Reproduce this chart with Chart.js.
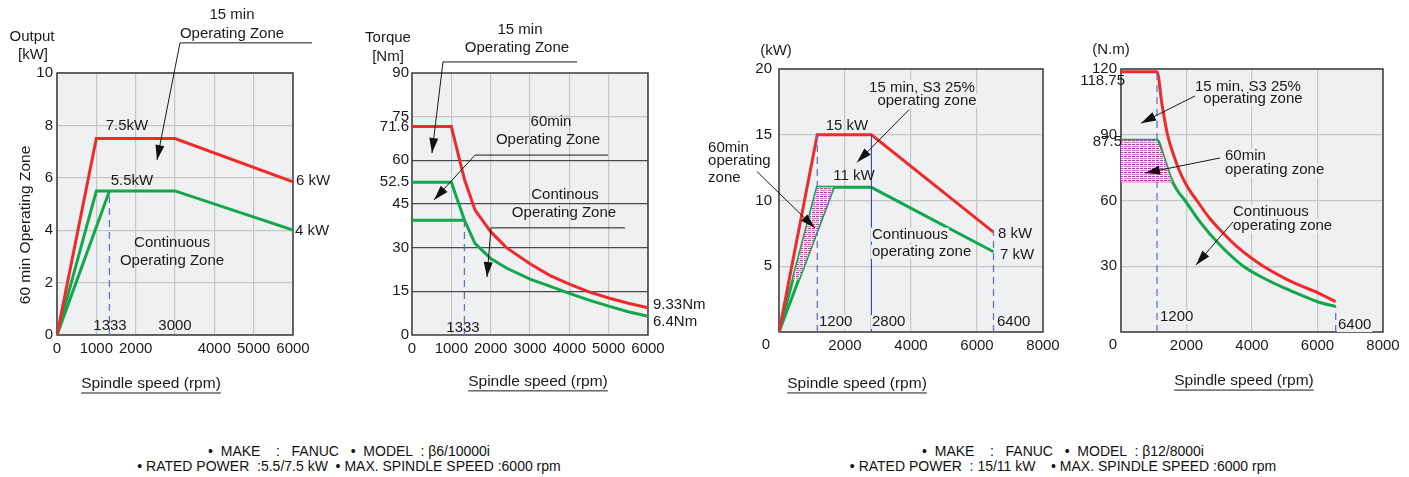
<!DOCTYPE html>
<html>
<head>
<meta charset="utf-8">
<script src="https://cdn.jsdelivr.net/npm/chart.js@4.4.1/dist/chart.umd.min.js"></script>
<style>
	html, body { margin: 0; padding: 0; background: #fff; }
	body { width: 1409px; height: 477px; position: relative; overflow: hidden; font-family: "Liberation Sans", Arial, sans-serif; }
	canvas { position: absolute; top: 0; }
	.cap { position: absolute; font-size: 14px; color: #111; white-space: pre; transform: translateX(-50%); line-height: 15px; }
</style>
</head>
<body>
<canvas id="c1" width="340" height="400" style="left:0"></canvas>
<canvas id="c2" width="380" height="400" style="left:340px"></canvas>
<canvas id="c3" width="370" height="400" style="left:700px"></canvas>
<canvas id="c4" width="349" height="400" style="left:1060px"></canvas>

<div class="cap" style="left:349px;top:444px">•  MAKE    :   FANUC   •  MODEL  : β6/10000i</div>
<div class="cap" style="left:349px;top:459px">• RATED POWER  :5.5/7.5 kW  • MAX. SPINDLE SPEED :6000 rpm</div>
<div class="cap" style="left:1063px;top:444px">•  MAKE    :   FANUC   •  MODEL  : β12/8000i</div>
<div class="cap" style="left:1063px;top:459px">• RATED POWER  : 15/11 kW    • MAX. SPINDLE SPEED :6000 rpm</div>

<script>
// beta 6/10000i - output
const b6Speed = [0, 1000, 3000, 6000];
const b6Out15 = [0, 7.5, 7.5, 5.85];
const b6Out60 = [0, 5.5, 5.5, 4];
const b6ContSpeed = [0, 1333];
const b6OutCont = [0, 5.5];

// beta 6/10000i - torque
const b6TqSpeed = [0, 1000, 1333, 1600, 2000, 2400, 3000, 3500, 4000, 4500, 5000, 5500, 6000];
const b6Tq15 = [71.6, 71.6, 53.5, 43, 35.5, 30, 24.5, 20.5, 17.5, 14.8, 12.7, 10.9, 9.33];
const b6Tq60 = [52.5, 52.5, 39.5, 31.5, 26.3, 23, 19.2, 16.8, 14.3, 12, 9.9, 8, 6.4];
const b6TqContSpeed = [0, 1333];
const b6TqCont = [39.4, 39.4];
const b6TqTicks = [0, 15, 30, 45, 52.5, 60, 71.6, 75, 90];

// beta 12/8000i - output
const b12Speed = [0, 1160, 2800, 6500];
const b12Out15 = [0, 15, 15, 7.6];
const b12Out60 = [0, 11, 11, 6.1];
const b12ContSpeed = [0, 1650];
const b12OutCont = [0, 11];
const b12WedgeSpeed = [422, 1160, 1650, 600];
const b12WedgeOut = [4, 11, 11, 4];

// beta 12/8000i - torque
const b12TqSpeed15 = [0, 1100, 1250, 1420, 1600, 1800, 2000, 2361, 2700, 3000, 3500, 4000, 4346, 5000, 5500, 6000, 6555];
const b12Tq15 = [118.75, 118.75, 104, 90, 81, 73, 67, 59, 52, 47, 39.5, 33.5, 30, 24.5, 21, 18, 13.8];
const b12TqSpeed60 = [0, 1100, 1300, 1500, 1700, 1954, 2400, 3000, 3735, 4500, 5000, 5500, 6000, 6555];
const b12Tq60 = [87.5, 87.5, 80, 71, 65, 60, 50.5, 40, 30, 23.5, 20, 16.8, 13.8, 11.6];
const b12ZoneSpeed = [0, 1100, 1300, 1500, 1560, 0];
const b12ZoneTq = [87.5, 87.5, 80, 71, 68.6, 68.6];

const RED = "#ee2a2a";
const GREEN = "#13a64a";
const BLUE = "#6a70c6";
const FONT = "\"Liberation Sans\", Arial, sans-serif";

const pts = (xs, ys) => xs.map((x, i) => ({ x: x, y: ys[i] }));

function curve(xs, ys, color, extra) {
	return Object.assign({
		data: pts(xs, ys),
		borderColor: color,
		borderWidth: 3,
		showLine: true,
		pointRadius: 0,
		fill: false
	}, extra || {});
}

function vline(x, y0, y1, color, dash, width) {
	return curve([x, x], [y0, y1], color, { borderWidth: width || 1.3, borderDash: dash || [] });
}

function pinkPattern() {
	const c = document.createElement("canvas");
	c.width = 8; c.height = 4;
	const g = c.getContext("2d");
	g.fillStyle = "#f4e4f1";
	g.fillRect(0, 0, 8, 4);
	g.fillStyle = "#b53aab";
	g.fillRect(0, 0, 3, 1);
	g.fillRect(4, 0, 3, 1);
	g.fillStyle = "#cf78c7";
	g.fillRect(0, 2, 7, 1);
	return g.createPattern(c, "repeat");
}

// text and arrows, in data units of each chart
const notes = {
	c1: [
		{ t: "text", x: -636, y: 11.37, s: "Output" },
		{ t: "text", x: -610, y: 10.69, s: "[kW]" },
		{ t: "text", x: 4449, y: 12.21, s: "15 min" },
		{ t: "text", x: 4449, y: 11.49, s: "Operating Zone" },
		{ t: "line", x1: 3127, y1: 11.15, x2: 6483, y2: 11.15 },
		{ t: "arrow", x1: 3127, y1: 11.15, x2: 2542, y2: 6.68 },
		{ t: "text", x: 1780, y: 7.98, s: "7.5kW" },
		{ t: "text", x: 1907, y: 5.88, s: "5.5kW" },
		{ t: "text", x: 6076, y: 5.88, s: "6 kW", a: "left" },
		{ t: "text", x: 6050, y: 3.97, s: "4 kW", a: "left" },
		{ t: "text", x: 2924, y: 3.51, s: "Continuous" },
		{ t: "text", x: 2924, y: 2.82, s: "Operating Zone" },
		{ t: "text", x: 1347, y: 0.34, s: "1333" },
		{ t: "text", x: 3000, y: 0.34, s: "3000" },
		{ t: "text", x: -790, y: 4.2, s: "60 min Operating Zone", rot: -Math.PI / 2, size: 15.5 },
		{ t: "text", x: 2390, y: -1.87, s: "Spindle speed (rpm)", ul: true, size: 15.5 }
	],
	c2: [
		{ t: "text", x: -610, y: 102, s: "Torque" },
		{ t: "text", x: -610, y: 95.5, s: "[Nm]" },
		{ t: "text", x: 2746, y: 104.8, s: "15 min" },
		{ t: "text", x: 2669, y: 98.6, s: "Operating Zone" },
		{ t: "line", x1: 788, y1: 93.8, x2: 4195, y2: 93.8 },
		{ t: "arrow", x1: 788, y1: 93.8, x2: 508, y2: 62.5 },
		{ t: "text", x: 3534, y: 73.2, s: "60min" },
		{ t: "text", x: 3458, y: 67, s: "Operating Zone" },
		{ t: "line", x1: 1602, y1: 61.8, x2: 4983, y2: 61.8 },
		{ t: "arrow", x1: 1602, y1: 61.8, x2: 559, y2: 46.4 },
		{ t: "text", x: 3890, y: 48.1, s: "Continous" },
		{ t: "text", x: 3864, y: 41.9, s: "Operating Zone" },
		{ t: "line", x1: 2008, y1: 36.8, x2: 5415, y2: 36.8 },
		{ t: "arrow", x1: 2008, y1: 36.8, x2: 1907, y2: 19.9 },
		{ t: "text", x: 6127, y: 10.3, s: "9.33Nm", a: "left" },
		{ t: "text", x: 6127, y: 4.5, s: "6.4Nm", a: "left" },
		{ t: "text", x: 1297, y: 2.4, s: "1333" },
		{ t: "text", x: 3203, y: -16.1, s: "Spindle speed (rpm)", ul: true, size: 15.5 }
	],
	c3: [
		{ t: "text", x: -91, y: 21.4, s: "(kW)" },
		{ t: "text", x: 4333, y: 18.6, s: "15 min, S3 25%", bg: true },
		{ t: "text", x: 4485, y: 17.6, s: "operating zone", bg: true },
		{ t: "arrow", x1: 3939, y1: 16.9, x2: 2364, y2: 12.9 },
		{ t: "text", x: 2061, y: 15.7, s: "15 kW" },
		{ t: "text", x: 2273, y: 11.9, s: "11 kW" },
		{ t: "text", x: 6636, y: 7.5, s: "8 kW", a: "left" },
		{ t: "text", x: 6700, y: 5.9, s: "7 kW", a: "left" },
		{ t: "text", x: -2150, y: 14.0, s: "60min", a: "left" },
		{ t: "text", x: -2150, y: 13.0, s: "operating", a: "left" },
		{ t: "text", x: -2150, y: 11.7, s: "zone", a: "left" },
		{ t: "arrow", x1: -667, y1: 12.2, x2: 1091, y2: 7.9 },
		{ t: "text", x: 2818, y: 7.4, s: "Continuous", a: "left", bg: true },
		{ t: "text", x: 2818, y: 6.1, s: "operating zone", a: "left", bg: true },
		{ t: "text", x: 1212, y: 0.76, s: "1200", a: "left", bg: true },
		{ t: "text", x: 2818, y: 0.76, s: "2800", a: "left", bg: true },
		{ t: "text", x: 6606, y: 0.76, s: "6400", a: "left", bg: true },
		{ t: "text", x: -394, y: -1.0, s: "0" },
		{ t: "text", x: 2364, y: -3.95, s: "Spindle speed (rpm)", ul: true, size: 15.5 }
	],
	c4: [
		{ t: "text", x: -305, y: 128.6, s: "(N.m)" },
		{ t: "text", x: 122, y: 114.5, s: "118.75", a: "right" },
		{ t: "text", x: 30, y: 86.7, s: "87.5", a: "right" },
		{ t: "text", x: 3877, y: 111.8, s: "15 min, S3 25%", bg: true },
		{ t: "text", x: 4030, y: 106.3, s: "operating zone", bg: true },
		{ t: "arrow", x1: 2259, y1: 107.7, x2: 611, y2: 95.3 },
		{ t: "text", x: 3175, y: 80.3, s: "60min", a: "left", bg: true },
		{ t: "text", x: 3175, y: 73.9, s: "operating zone", a: "left", bg: true },
		{ t: "arrow", x1: 3022, y1: 79.4, x2: 733, y2: 72.5 },
		{ t: "text", x: 3419, y: 54.7, s: "Continuous", a: "left", bg: true },
		{ t: "text", x: 3419, y: 48.4, s: "operating zone", a: "left", bg: true },
		{ t: "arrow", x1: 3419, y1: 50.2, x2: 2290, y2: 30.6 },
		{ t: "text", x: 1191, y: 6.8, s: "1200", a: "left", bg: true },
		{ t: "text", x: 6625, y: 3.2, s: "6400", a: "left", bg: true },
		{ t: "text", x: -244, y: -5.9, s: "0" },
		{ t: "text", x: 3755, y: -22.4, s: "Spindle speed (rpm)", ul: true, size: 15.5 }
	]
};

const PLOT_BG = "#eef0f2";

const notesPlugin = {
	id: "notes",
	beforeDraw(chart) {
		const { ctx, chartArea: a } = chart;
		ctx.save();
		ctx.fillStyle = PLOT_BG;
		ctx.fillRect(a.left, a.top, a.width, a.height);
		ctx.restore();
	},
	beforeDatasetsDraw(chart) {
		const { ctx, chartArea: a } = chart;
		ctx.save();
		ctx.strokeStyle = "#3c3c3c";
		ctx.lineWidth = 1.5;
		ctx.strokeRect(a.left, a.top, a.width, a.height);
		ctx.restore();
	},
	afterDraw(chart) {
		const { ctx } = chart;
		const X = v => chart.scales.x.getPixelForValue(v);
		const Y = v => chart.scales.y.getPixelForValue(v);
		ctx.save();
		ctx.textBaseline = "middle";
		(notes[chart.canvas.id] || []).forEach(n => {
			if (n.t === "text") {
				const x = X(n.x), y = Y(n.y);
				ctx.save();
				ctx.font = (n.size || 15) + "px " + FONT;
				ctx.translate(x, y);
				if (n.rot) ctx.rotate(n.rot);
				ctx.textAlign = n.a || "center";
				const w = ctx.measureText(n.s).width;
				const x0 = ctx.textAlign === "left" ? 0 : ctx.textAlign === "right" ? -w : -w / 2;
				if (n.bg) {
					ctx.fillStyle = PLOT_BG;
					ctx.fillRect(x0 - 1, -7, w + 2, 14);
				}
				ctx.fillStyle = "#1a1a1a";
				ctx.fillText(n.s, 0, 0);
				if (n.ul) {
					ctx.strokeStyle = "#1a1a1a";
					ctx.lineWidth = 1;
					ctx.beginPath();
					ctx.moveTo(x0, 9);
					ctx.lineTo(x0 + w, 9);
					ctx.stroke();
				}
				ctx.restore();
			} else if (n.t === "line" || n.t === "arrow") {
				const x1 = X(n.x1), y1 = Y(n.y1), x2 = X(n.x2), y2 = Y(n.y2);
				ctx.strokeStyle = "#1a1a1a";
				ctx.lineWidth = 1;
				ctx.beginPath();
				ctx.moveTo(x1, y1);
				ctx.lineTo(x2, y2);
				ctx.stroke();
				if (n.t === "arrow") {
					const ang = Math.atan2(y2 - y1, x2 - x1);
					const L = 15, H = 4.5;
					const bx = x2 - L * Math.cos(ang), by = y2 - L * Math.sin(ang);
					ctx.fillStyle = "#111";
					ctx.beginPath();
					ctx.moveTo(x2, y2);
					ctx.lineTo(bx + H * Math.sin(ang), by - H * Math.cos(ang));
					ctx.lineTo(bx - H * Math.sin(ang), by + H * Math.cos(ang));
					ctx.closePath();
					ctx.fill();
				}
			}
		});
		ctx.restore();
	}
};

function makeChart(id, datasets, box, xs, ys) {
	return new Chart(document.getElementById(id), {
		type: "scatter",
		data: { datasets: datasets },
		plugins: [notesPlugin],
		options: {
			responsive: false,
			animation: false,
			events: [],
			layout: { padding: { top: box.top, right: box.right, left: 0, bottom: 0 } },
			plugins: { legend: { display: false }, tooltip: { enabled: false } },
			scales: {
				x: Object.assign({
					type: "linear",
					border: { display: false },
					grid: { drawTicks: false, color: "#c4c6c8", lineWidth: 1.2 },
					afterFit: s => { s.height = box.xh; }
				}, xs, {
					ticks: Object.assign({
						padding: 5, color: "#1a1a1a", maxRotation: 0, autoSkip: false,
						font: { family: FONT, size: 15 }
					}, xs.ticks || {})
				}),
				y: Object.assign({
					type: "linear",
					border: { display: false },
					grid: { drawTicks: false, color: "#c4c6c8", lineWidth: 1.2 },
					afterFit: s => { s.width = box.yw; }
				}, ys, {
					ticks: Object.assign({
						padding: 4, color: "#1a1a1a", autoSkip: false,
						font: { family: FONT, size: 15 }
					}, ys.ticks || {})
				})
			}
		}
	});
}

window.addEventListener("load", () => {
	const pattern = pinkPattern();
	const plain = v => String(v);
	const noZero = v => v === 0 ? "" : String(v);

	// beta 6 output
	makeChart("c1", [
		curve(b6Speed, b6Out15, RED),
		curve(b6Speed, b6Out60, GREEN),
		curve(b6ContSpeed, b6OutCont, GREEN),
		vline(1333, 0, 5.5, BLUE, [7, 5])
	], { top: 73, right: 47, xh: 65, yw: 57 }, {
		min: 0, max: 6000,
		ticks: { stepSize: 1000, callback: v => v === 3000 ? "" : String(v) }
	}, {
		min: 0, max: 10,
		ticks: { stepSize: 2, callback: plain }
	});

	// beta 6 torque
	makeChart("c2", [
		curve(b6TqSpeed, b6Tq15, RED),
		curve(b6TqSpeed, b6Tq60, GREEN),
		curve(b6TqContSpeed, b6TqCont, GREEN),
		vline(1333, 0, 39.4, BLUE, [7, 5])
	], { top: 73, right: 72, xh: 65, yw: 72 }, {
		min: 0, max: 6000,
		ticks: { stepSize: 1000, callback: plain }
	}, {
		min: 0, max: 90,
		afterBuildTicks: s => { s.ticks = b6TqTicks.map(v => ({ value: v })); },
		ticks: { padding: 3, callback: plain },
		grid: {
			drawTicks: false,
			lineWidth: 1.2,
			color: c => {
				const v = c.tick && c.tick.value;
				if (v === 15 || v === 30 || v === 45 || v === 60) return "#4a4a4a";
				if (v === 75) return "#c4c6c8";
				return "rgba(0,0,0,0)";
			}
		}
	});

	// beta 12 output
	makeChart("c3", [
		{
			data: pts(b12WedgeSpeed, b12WedgeOut),
			showLine: true, pointRadius: 0, borderWidth: 0,
			backgroundColor: pattern, fill: "shape"
		},
		vline(1160, 0, 15, BLUE, [7, 5]),
		vline(2800, 0, 15, "#3442a6", [], 1.1),
		vline(6500, 0, 7.6, BLUE, [7, 5]),
		curve(b12Speed, b12Out15, RED),
		curve(b12Speed, b12Out60, GREEN),
		curve(b12ContSpeed, b12OutCont, GREEN)
	], { top: 69, right: 27, xh: 68, yw: 79 }, {
		min: 0, max: 8000,
		ticks: { stepSize: 2000, callback: noZero }
	}, {
		min: 0, max: 20,
		ticks: { stepSize: 5, padding: 7, callback: noZero }
	});

	// beta 12 torque
	makeChart("c4", [
		{
			data: pts(b12ZoneSpeed, b12ZoneTq),
			showLine: true, pointRadius: 0, borderWidth: 0,
			backgroundColor: pattern, fill: "shape"
		},
		curve([0, 1560], [68.6, 68.6], RED, { borderWidth: 1.3 }),
		vline(1100, 0, 118.75, BLUE, [7, 5]),
		vline(6555, 0, 11.6, BLUE, [7, 5]),
		curve(b12TqSpeed15, b12Tq15, RED, { cubicInterpolationMode: "monotone" }),
		curve(b12TqSpeed60, b12Tq60, GREEN, { cubicInterpolationMode: "monotone" })
	], { top: 69, right: 26, xh: 68, yw: 61 }, {
		min: 0, max: 8000,
		ticks: { stepSize: 2000, callback: noZero }
	}, {
		min: 0, max: 120,
		ticks: { stepSize: 30, callback: noZero }
	});
});
</script>
</body>
</html>
